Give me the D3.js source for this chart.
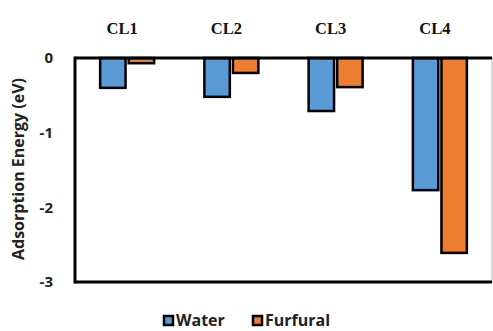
<!DOCTYPE html>
<html><head><meta charset="utf-8">
<script src="https://cdn.jsdelivr.net/npm/d3@7/dist/d3.min.js"></script>
<style>body{margin:0;background:#fff}</style>
</head><body>
<svg id="c" width="493" height="331"></svg>
<script>
const categories = ["CL1","CL2","CL3","CL4"];
const seriesNames = ["Water","Furfural"];
const water = [-0.40, -0.52, -0.71, -1.77];
const furfural = [-0.07, -0.20, -0.39, -2.61];
const yTicks = [0, -1, -2, -3];
const colors = ["#5b9bd5", "#ed7d31"];

const svg = d3.select("#c");
const L = 75, R = 492, T = 58, B = 282;
const x = d3.scaleBand().domain(categories).range([L, R]).paddingInner(0).paddingOuter(0);
const y = d3.scaleLinear().domain([0, -3]).range([T, B]);
const xs = d3.scaleBand().domain(seriesNames).range([0, 54]).paddingInner(0.11);
const off = (x.bandwidth() - 54) / 2;

svg.append("line").attr("x1", R).attr("x2", R).attr("y1", T).attr("y2", B).attr("stroke", "#bbb").attr("stroke-width", 1);

const data = [water, furfural];
seriesNames.forEach((s, si) => {
  svg.append("g").selectAll("rect").data(categories).join("rect")
    .attr("x", (c) => x(c) + off + xs(s))
    .attr("y", y(0))
    .attr("width", xs.bandwidth())
    .attr("height", (c, i) => y(data[si][i]) - y(0))
    .attr("fill", colors[si])
    .attr("stroke", "#000").attr("stroke-width", 2.5);
});

svg.append("line").attr("x1", L).attr("x2", R).attr("y1", y(0)).attr("y2", y(0)).attr("stroke", "#000").attr("stroke-width", 3);
svg.append("line").attr("x1", L).attr("x2", R).attr("y1", B).attr("y2", B).attr("stroke", "#000").attr("stroke-width", 3);
svg.append("line").attr("x1", L).attr("x2", L).attr("y1", T - 1.5).attr("y2", B + 1.5).attr("stroke", "#000").attr("stroke-width", 3);

svg.append("g").selectAll("text").data(yTicks).join("text")
  .attr("x", 53).attr("y", d => y(d)).attr("dy", "0.35em")
  .attr("text-anchor", "end")
  .attr("font-family", "Open Sans, sans-serif").attr("font-weight", "bold").attr("font-size", 15)
  .attr("fill", "#222").text(d => d === 0 ? "0" : "-" + Math.abs(d));

svg.append("g").selectAll("text").data(categories).join("text")
  .attr("x", c => x(c) + x.bandwidth() / 2 - 5).attr("y", 34)
  .attr("text-anchor", "middle")
  .attr("font-family", "Liberation Serif, serif").attr("font-weight", "bold").attr("font-size", 16.5)
  .attr("fill", "#111").text(c => c);

svg.append("text").attr("transform", "translate(24,169) rotate(-90)")
  .attr("text-anchor", "middle")
  .attr("font-family", "Open Sans, sans-serif").attr("font-weight", "bold").attr("font-size", 16)
  .attr("fill", "#222").text("Adsorption Energy (eV)");

const leg = [{n: "Water", x: 163}, {n: "Furfural", x: 252}];
leg.forEach((l, i) => {
  svg.append("rect").attr("x", l.x + 1).attr("y", 316).attr("width", 9).attr("height", 9)
    .attr("fill", colors[i]).attr("stroke", "#000").attr("stroke-width", 2.5);
  svg.append("text").attr("x", l.x + 13).attr("y", 326)
    .attr("font-family", "Open Sans, sans-serif").attr("font-weight", "bold").attr("font-size", 16)
    .attr("fill", "#222").text(l.n);
});
</script>
</body></html>
